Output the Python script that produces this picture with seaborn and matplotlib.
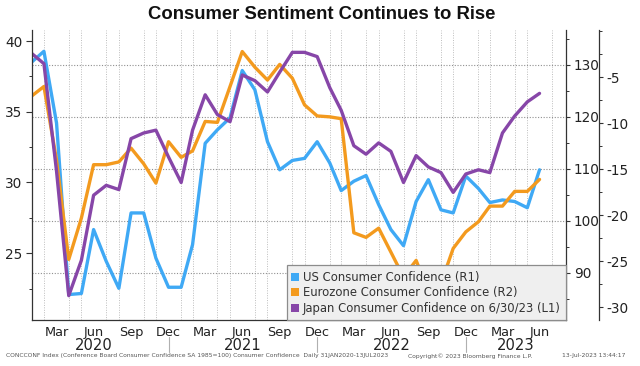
import matplotlib
matplotlib.use("Agg")
import matplotlib.pyplot as plt
import matplotlib.dates as mdates
import matplotlib.transforms as mtransforms
from matplotlib.ticker import MultipleLocator, FixedLocator
from matplotlib.lines import Line2D
import seaborn as sns
import pandas as pd

# ---------------- data (monthly, month-end, Jan 2020 .. Jun 2023) ----------------
months = pd.period_range("2020-01", "2023-06", freq="M").to_timestamp(how="end").normalize()

us_conf = [130.6, 132.6, 118.8, 85.8, 86.0, 98.3, 92.2, 87.0, 101.5, 101.5, 92.8, 87.2,
           87.2, 95.4, 114.9, 117.5, 119.8, 128.9, 125.2, 115.2, 109.8, 111.6, 112.0, 115.2,
           111.1, 105.8, 107.6, 108.7, 103.1, 98.3, 95.2, 103.7, 107.9, 102.1, 101.5, 108.6,
           106.2, 103.5, 104.0, 103.7, 102.5, 109.8]

euro_conf = [-7.0, -6.0, -14.0, -24.8, -20.3, -14.5, -14.5, -14.2, -12.7, -14.4, -16.5, -12.0,
             -13.7, -13.0, -9.8, -9.9, -6.0, -2.2, -3.9, -5.3, -3.6, -5.1, -8.0, -9.2,
             -9.3, -9.5, -21.9, -22.4, -21.4, -24.0, -26.7, -24.9, -28.3, -27.4, -23.6, -21.8,
             -20.7, -19.0, -19.0, -17.4, -17.4, -16.1]

japan_conf = [39.1, 38.4, 30.8, 22.0, 24.5, 29.1, 29.8, 29.5, 33.1, 33.5, 33.7, 31.8,
              30.0, 33.7, 36.2, 34.8, 34.3, 37.6, 37.2, 36.4, 37.8, 39.2, 39.2, 38.9,
              36.7, 35.1, 32.6, 32.0, 32.8, 32.2, 30.0, 31.9, 31.1, 30.7, 29.3, 30.6,
              30.9, 30.7, 33.5, 34.7, 35.7, 36.3]

series_labels = ["US Consumer Confidence (R1)",
                 "Eurozone Consumer Confidence (R2)",
                 "Japan Consumer Confidence on 6/30/23 (L1)"]
years = ["2020", "2021", "2022", "2023"]

title = "Consumer Sentiment Continues to Rise"
footer_left = ("CONCCONF Index (Conference Board Consumer Confidence SA 1985=100) "
               "Consumer Confidence  Daily 31JAN2020-13JUL2023")
footer_mid = "Copyright\u00a9 2023 Bloomberg Finance L.P."
footer_right = "13-Jul-2023 13:44:17"

# ---------------- style ----------------
sns.set_style("white")
plt.rcParams["font.family"] = ["DejaVu Sans"]
plt.rcParams["axes.unicode_minus"] = False

c_us, c_eu, c_jp = "#3fa9f5", "#f39a1e", "#8746a8"
txt = "#222222"
spine_c = "#333333"

df = pd.DataFrame({"date": months, "us": us_conf, "eu": euro_conf, "jp": japan_conf})

fig = plt.figure(figsize=(6.4, 3.66), dpi=100)
ax_jp = fig.add_axes([31.7 / 640, 46 / 366, (566 - 31.7) / 640, 290 / 366])
ax_us = ax_jp.twinx()
ax_eu = ax_jp.twinx()

# draw order: US bottom, Eurozone middle, Japan on top
ax_us.set_zorder(1)
ax_eu.set_zorder(2)
ax_jp.set_zorder(3)
for a in (ax_jp, ax_us, ax_eu):
    a.patch.set_visible(False)

lw = 2.4
sns.lineplot(data=df, x="date", y="us", ax=ax_us, color=c_us, lw=lw)
sns.lineplot(data=df, x="date", y="eu", ax=ax_eu, color=c_eu, lw=lw)
sns.lineplot(data=df, x="date", y="jp", ax=ax_jp, color=c_jp, lw=lw)

for a in (ax_jp, ax_us, ax_eu):
    a.set_xlabel("")
    a.set_ylabel("")

# limits
x0 = pd.Timestamp("2020-01-30")
x1 = pd.Timestamp("2023-09-03")
ax_jp.set_xlim(x0, x1)
ax_jp.set_ylim(20.28, 40.78)
ax_us.set_ylim(80.9, 136.7)
ax_eu.set_ylim(-31.38, 0.14)

# x ticks
grid_months = pd.period_range("2020-01", "2023-07", freq="M").to_timestamp(how="end").normalize()
major_months = [d for d in months if d.month in (3, 6, 9, 12)]
for a in (ax_jp, ax_us):
    a.xaxis.set_major_locator(FixedLocator(mdates.date2num(major_months)))
    a.xaxis.set_minor_locator(FixedLocator(mdates.date2num(grid_months)))
ax_jp.xaxis.set_major_formatter(mdates.DateFormatter("%b"))
ax_jp.tick_params(axis="x", which="major", direction="out", length=3, width=0.7,
                  colors=spine_c, labelcolor=txt, labelsize=9.3, pad=1.2)
ax_jp.tick_params(axis="x", which="minor", direction="out", length=3, width=0.7, colors=spine_c)

# vertical grid drawn on the lowest axes so it stays under the lines
ax_us.xaxis.set_visible(True)
ax_us.tick_params(axis="x", which="both", length=0, labelbottom=False, bottom=False)
ax_us.grid(True, axis="x", which="minor", color="#bdbdbd", linestyle=(0, (1, 1.5)), lw=0.7)
ax_us.grid(False, axis="x", which="major")
ax_us.grid(True, axis="y", which="major", color="#909090", linestyle=(0, (1, 1.5)), lw=0.8)
ax_jp.grid(False)
ax_eu.grid(False)

# y ticks
ax_jp.yaxis.set_major_locator(MultipleLocator(5))
ax_jp.yaxis.set_minor_locator(MultipleLocator(2.5))
ax_us.yaxis.set_major_locator(MultipleLocator(10))
ax_us.yaxis.set_minor_locator(MultipleLocator(5))
ax_eu.yaxis.set_major_locator(FixedLocator([-30, -25, -20, -15, -10, -5]))
ax_eu.yaxis.set_minor_locator(MultipleLocator(2.5))
fmt = plt.FuncFormatter(lambda v, p: f"{v:.0f}")
for a in (ax_jp, ax_us, ax_eu):
    a.yaxis.set_major_formatter(fmt)

ax_jp.tick_params(axis="y", which="major", direction="out", length=4, width=0.8,
                  colors=spine_c, labelcolor=txt, labelsize=9.8, pad=2.5, left=True, right=False)
ax_jp.tick_params(axis="y", which="minor", direction="out", length=2.5, width=0.7,
                  colors=spine_c, left=True, right=False)
for a in (ax_us, ax_eu):
    a.tick_params(axis="y", which="major", direction="out", length=3, width=0.8,
                  colors=spine_c, labelcolor=txt, labelsize=9.8, pad=2.5, right=True, left=False)
    a.tick_params(axis="y", which="minor", direction="out", length=2.5, width=0.7,
                  colors=spine_c, right=True, left=False)

# spines
for s in ("top", "right"):
    ax_jp.spines[s].set_visible(False)
for s in ("left", "bottom"):
    ax_jp.spines[s].set_color(spine_c)
    ax_jp.spines[s].set_linewidth(0.9)
for a in (ax_us, ax_eu):
    for s in ("top", "left", "bottom"):
        a.spines[s].set_visible(False)
    a.spines["right"].set_color(spine_c)
    a.spines["right"].set_linewidth(0.9)
ax_eu.spines["right"].set_position(("outward", 33 * 72 / 100))

# year labels and separators under the month labels
blend = mtransforms.blended_transform_factory(ax_jp.transData, ax_jp.transAxes)
year_edges = [pd.Timestamp("2019-12-31"), pd.Timestamp("2020-12-31"),
              pd.Timestamp("2021-12-31"), pd.Timestamp("2022-12-31"), x1]
for i, y in enumerate(years):
    a_, b_ = year_edges[i], year_edges[i + 1]
    mid = a_ + (b_ - a_) / 2
    ax_jp.text(mdates.date2num(mid), -0.088, y, transform=blend, ha="center", va="center",
               fontsize=10.6, color=txt)
for e in year_edges[1:4]:
    xe = mdates.date2num(e)
    ax_jp.plot([xe, xe], [-0.06, -0.11], transform=blend, color="#b0b0b0", lw=0.8,
               clip_on=False)

# legend
handles = [Line2D([], [], marker="s", linestyle="none", markersize=5.6, color=c,
                  markeredgewidth=0)
           for c in (c_us, c_eu, c_jp)]
leg = ax_jp.legend(handles, series_labels, loc="lower right", bbox_to_anchor=(1.0, 0.0),
                   borderaxespad=0.0, frameon=True, fancybox=False, framealpha=1.0,
                   facecolor="#efefef", edgecolor="#8c8c8c", fontsize=8.35,
                   handlelength=0.6, handletextpad=0.35, labelspacing=0.22,
                   borderpad=0.45, labelcolor="#333333")
leg.get_frame().set_linewidth(0.9)

# title and footer
fig.text(0.503, 1 - 14.5 / 366, title, ha="center", va="center", fontsize=13.3,
         fontweight="bold", family=["Liberation Sans", "DejaVu Sans"], color="#111111")
fy = 1 - 356 / 366
fig.text(6 / 640, fy, footer_left, ha="left", va="center", fontsize=4.3, color="#555555")
fig.text(408 / 640, fy, footer_mid, ha="left", va="center", fontsize=4.3, color="#555555")
fig.text(626 / 640, fy, footer_right, ha="right", va="center", fontsize=4.3, color="#555555")

fig.savefig("out.png", dpi=100)
